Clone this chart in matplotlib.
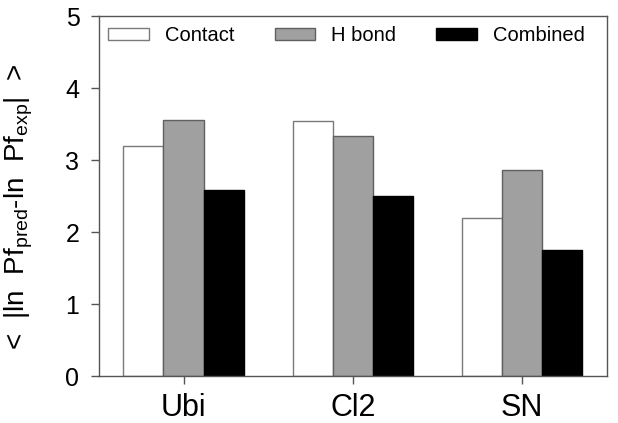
import numpy as np
import matplotlib
matplotlib.use("Agg")
import matplotlib.pyplot as plt

plt.rcParams["font.family"] = ["Liberation Sans", "DejaVu Sans"]
plt.rcParams["mathtext.default"] = "regular"

proteins = ["Ubi", "Cl2", "SN"]
series = ["Contact", "H bond", "Combined"]
contact = [3.20, 3.54, 2.20]
hbond = [3.56, 3.34, 2.86]
combined = [2.58, 2.50, 1.75]

fig = plt.figure(figsize=(6.18, 4.23), dpi=100)
ax = fig.add_axes([0.160, 0.111, 0.822, 0.851])

x = np.arange(len(proteins))
w = 0.237
ax.bar(x - w, contact, w, color="white", edgecolor="#7a7a7a", linewidth=1.0, label=series[0])
ax.bar(x, hbond, w, color="#a0a0a0", edgecolor="#606060", linewidth=1.0, label=series[1])
ax.bar(x + w, combined, w, color="black", edgecolor="black", linewidth=1.0, label=series[2])

ax.set_xlim(-0.5, 2.5)
ax.set_ylim(0, 5)
ax.set_xticks(x)
ax.set_xticklabels(proteins, fontsize=22)
ax.set_yticks(range(6))
ax.tick_params(axis="y", labelsize=18, length=6, width=1, color="#555555", pad=8)
ax.tick_params(axis="x", length=6, width=1, color="#555555", pad=6)
for s in ax.spines.values():
    s.set_color("#555555")
    s.set_linewidth(1.0)

ax.set_ylabel("<  |ln  Pf$_{pred}$-ln  Pf$_{exp}$|  >", fontsize=20, labelpad=4)
ax.yaxis.set_label_coords(-0.125, 0.47)

ax.legend(loc="upper left", bbox_to_anchor=(-0.005, 1.005), ncol=3, frameon=False,
          fontsize=14.5, handlelength=2.0, handleheight=0.5, handletextpad=0.8,
          columnspacing=2.0, borderaxespad=0.2)

fig.savefig("out.png", dpi=100)
